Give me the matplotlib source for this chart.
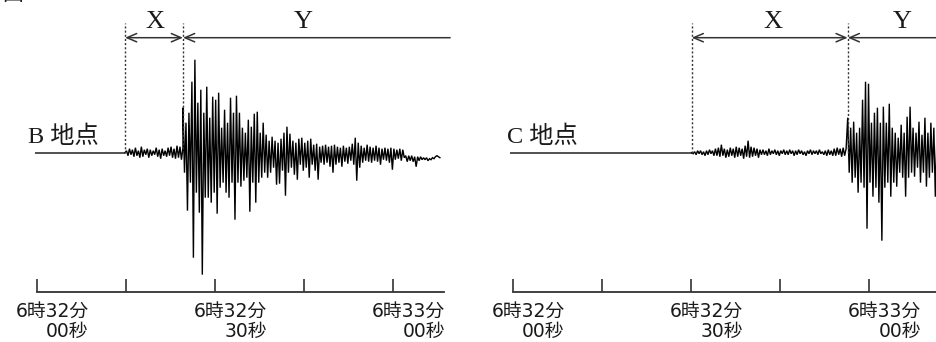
import numpy as np
import matplotlib
matplotlib.use("Agg")
import matplotlib.pyplot as plt
from matplotlib.transforms import offset_copy

# ---------------- data ----------------
tick_seconds = [0, 15, 30, 45, 60]
tick_label_line1 = ["6時32分", "", "6時32分", "", "6時33分"]
tick_label_line2 = ["00秒", "", "30秒", "", "00秒"]

sample_dt = 0.25  # seconds between read-off samples

# station B
b_name = "B 地点"
b_trace_start = -0.3
b_p_arrival = 14.87
b_s_arrival = 24.63
b_p_wave = [0, 2, -3, 4, -2, 3, -4, 5, -3, 2, -5, 6, -4, 3, -2, 4, -5, 3, -3, 2,
            -2, 5, -4, 3, -6, 4, -3, 2, -4, 5, -3, 6, -5, 4, -6, 7, -5, 6, -7, 5]
b_s_wave = [45, -20, 30, -58, 40, -30, 71, -105, 93, -40,
            50, -60, 63, -122, 40, -45, 66, -45, 35, -50,
            56, -40, 53, -61, 60, -35, 25, -30, 43, -40,
            30, -45, 55, -30, 40, -67, 57, -30, 40, -34,
            25, -28, 20, -25, 33, -59, 26, -30, 39, -50,
            41, -30, 20, -25, 30, -20, 18, -25, 12, -20,
            16, -15, 12, -32, 10, -31, 14, -18, 20, -43,
            26, -20, 19, -15, 12, -22, 10, -27, 14, -12,
            15, -18, 10, -15, 12, -25, 14, -12, 8, -18,
            9, -27, 6, -10, 7, -12, 8, -10, 6, -14,
            7, -20, 8, -12, 6, -10, 5, -14, 7, -9,
            5, -11, 6, -8, 9, -12, 15, -28, 10, -15,
            7, -10, 5, -8, 8, -9, 6, -10, 5, -8,
            7, -9, 5, -12, 4, -7, 5, -8, 4, -10,
            5, -17, 4, -7, 3, -6, 4, -8, 3, -5,
            -3, -9, -3, -8, -3, -9, -4, -14, -4, -8,
            -4, -7, -5, -7, -5, -8, -6, -7, -5, -6,
            -4, -3, -4, -5]
b_y_arrow_end = 69.6

# station C
c_name = "C 地点"
c_trace_start = -0.4
c_p_arrival = 30.13
c_s_arrival = 56.4
c_p_wave = [0, -1, 1, -2, 2, -1, 2, -2, 1, -3, 2, -2, 3, -1, 2, -3,
            4, -3, 5, -4, 8, -3, 4, -5, 3, -4, 5, -3, 4, -5, 6, -4,
            5, -3, 4, -6, 7, -4, 12, -5, 6, -4, 5, -3, 4, -5, 3, -2,
            3, -2, 2, -3, 4, -2, 2, -1, 3, -2, 2, -3, 2, -1, 3, -2,
            2, -2, 3, -1, 2, -3, 2, -2, 3, -1, 2, -2, 1, -3, 2, -1,
            3, -2, 2, -1, 2, -2, 3, -1, 1, -2, 2, -3, 3, -2, 2, -3,
            4, -3, 5, -2, 4, -4, 5, -3, 4]
c_s_wave = [35, -20, 25, -30, 31, -25, 20, -40, 25, -30,
            53, -35, 71, -76, 69, -30, 30, -44, 40, -35,
            45, -50, 30, -88, 46, -35, 30, -30, 49, -44,
            25, -30, 20, -34, 15, -20, 28, -25, 20, -44,
            36, -25, 46, -20, 25, -24, 20, -15, 31, -30,
            18, -20, 35, -34, 20, -25, 30, -20, 25, -44,
            15, -10]
c_y_arrow_end = 76.0

# ---------------- layout (pixel based) ----------------
W, H = 937, 342
PX_PER_S = 5.94
AXIS_Y = 291.7
BASE_Y = 152.7
TOP_Y = 5.0

fig = plt.figure(figsize=(W / 100, H / 100), dpi=100)

jp = ["Noto Sans CJK JP", "DejaVu Sans"]
tick_font = ["DejaVu Sans", "Noto Sans CJK JP"]
serif_jp = ["Liberation Serif", "Noto Sans CJK JP"]
ink = "#1a1a1a"


def make_axes(x0_px, x1_px):
    ax = fig.add_axes([x0_px / W, (H - AXIS_Y) / H,
                       (x1_px - x0_px) / W, (AXIS_Y - TOP_Y) / H])
    ax.set_xlim(0, (x1_px - x0_px) / PX_PER_S)
    ax.set_ylim(-(AXIS_Y - BASE_Y), BASE_Y - TOP_Y)
    ax.patch.set_alpha(0)
    for s in ("left", "right", "top"):
        ax.spines[s].set_visible(False)
    ax.spines["bottom"].set_color("#333333")
    ax.spines["bottom"].set_linewidth(1.3)
    ax.set_yticks([])
    ax.set_xticks(tick_seconds)
    ax.set_xticklabels([])
    ax.tick_params(axis="x", direction="in", length=9.5, width=1.2,
                   color="#333333")
    tr1 = offset_copy(ax.get_xaxis_transform(), fig=fig, x=52, y=-19.5,
                      units="dots")
    tr2 = offset_copy(ax.get_xaxis_transform(), fig=fig, x=52, y=-40.0,
                      units="dots")
    for t, l1, l2 in zip(tick_seconds, tick_label_line1, tick_label_line2):
        if l1:
            ax.text(t, 0, l1, transform=tr1, ha="right", va="center",
                    fontsize=13.5, family=tick_font, color=ink, clip_on=False)
            ax.text(t, 0, l2, transform=tr2, ha="right", va="center",
                    fontsize=13.5, family=tick_font, color=ink, clip_on=False)
    return ax


def draw_station(ax, name, t_start, p_t, s_t, p_wave, s_wave, y_end):
    # quiet baseline before P
    ax.plot([t_start, p_t], [0, 0], color="#333333", lw=1.2,
            solid_capstyle="butt", clip_on=False)
    tp = p_t + sample_dt * np.arange(len(p_wave))
    ts = s_t + sample_dt * np.arange(len(s_wave))
    t = np.concatenate([[p_t], tp, ts])
    v = np.concatenate([[0], p_wave, s_wave])
    ax.plot(t, v, color="black", lw=1.0, solid_joinstyle="miter")
    # dotted markers of arrival times
    for tt in (p_t, s_t):
        ax.plot([tt, tt], [0, 129.5], color="#333333", lw=1.0,
                linestyle=(0, (1.5, 1.5)), clip_on=False)
    y_arr = BASE_Y - 37.7
    head = dict(color="#333333", lw=1.1, shrinkA=0, shrinkB=0,
                mutation_scale=10)
    ax.annotate("", xy=(s_t, y_arr), xytext=(p_t, y_arr),
                arrowprops=dict(arrowstyle="<->,head_length=0.7,head_width=0.3",
                                **head), annotation_clip=False)
    ax.annotate("", xy=(s_t, y_arr), xytext=(y_end, y_arr),
                arrowprops=dict(arrowstyle="->,head_length=0.7,head_width=0.3",
                                **head), annotation_clip=False)
    return y_arr


# ---- station B panel ----
axb = make_axes(36.7, 444)
draw_station(axb, b_name, b_trace_start, b_p_arrival, b_s_arrival,
             b_p_wave, b_s_wave, b_y_arrow_end)
axb.text((28 - 36.7) / PX_PER_S, BASE_Y - 137, b_name, ha="left",
         va="center", fontsize=17.5, family=serif_jp, color=ink)
axb.text((155 - 36.7) / PX_PER_S, BASE_Y - 22.5, "X", ha="center",
         va="center", fontsize=19, family="Liberation Serif", color=ink)
axb.text((303 - 36.7) / PX_PER_S, BASE_Y - 22.5, "Y", ha="center",
         va="center", fontsize=19, family="Liberation Serif", color=ink)

# ---- station C panel ----
axc = make_axes(512.7, 937)
draw_station(axc, c_name, c_trace_start, c_p_arrival, c_s_arrival,
             c_p_wave, c_s_wave, c_y_arrow_end)
axc.text((507 - 512.7) / PX_PER_S, BASE_Y - 137, c_name, ha="left",
         va="center", fontsize=17.5, family=serif_jp, color=ink)
axc.text((773 - 512.7) / PX_PER_S, BASE_Y - 22.5, "X", ha="center",
         va="center", fontsize=19, family="Liberation Serif", color=ink)
axc.text((902 - 512.7) / PX_PER_S, BASE_Y - 22.5, "Y", ha="center",
         va="center", fontsize=19, family="Liberation Serif", color=ink)

# clipped figure caption fragment at the very top-left
fig.text(2 / W, 1 + 6 / H, "図", ha="left", va="center", fontsize=15,
         family=jp, color=ink)

fig.savefig("out.png", dpi=100)
